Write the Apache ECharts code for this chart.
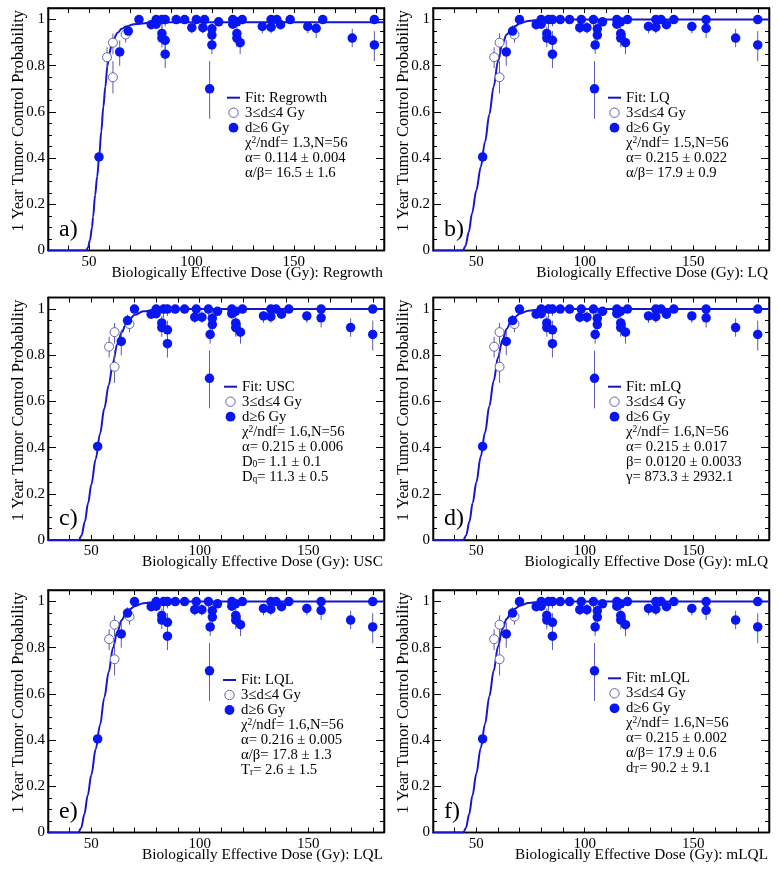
<!DOCTYPE html>
<html><head><meta charset="utf-8">
<script src="https://cdn.jsdelivr.net/npm/echarts@6/dist/echarts.min.js"></script>
<style>html,body{margin:0;padding:0;background:#fff}#c{width:779px;height:871px}</style>
</head><body><div id="c"></div>
<script>
// ---------------- DATA ----------------
// d>=6 Gy (filled) points: TCP and error-bar bounds (same for all panels)
const tcpFilled = [0.405,0.86,0.95,1.0,0.978,1.0,0.98,0.94,0.92,1.0,1.0,0.91,0.85,1.0,1.0,0.965,1.0,0.965,1.0,0.70,0.89,0.96,0.933,0.99,1.0,0.98,0.99,0.94,0.92,0.90,1.0,0.97,1.0,0.967,1.0,0.978,1.0,0.97,0.962,1.0,0.92,1.0,0.89];
const loFilled  = [0.385,0.80,0.92,1.0,0.96,0.97,0.96,0.91,0.88,0.96,0.97,0.87,0.79,1.0,1.0,0.94,1.0,0.94,0.97,0.57,0.85,0.93,0.90,0.98,1.0,0.96,0.98,0.91,0.88,0.85,1.0,0.94,1.0,0.94,1.0,0.96,1.0,0.94,0.92,1.0,0.88,1.0,0.82];
const hiFilled  = [0.425,0.91,0.975,1.0,0.99,1.0,0.99,0.97,0.95,1.02,1.02,0.95,0.90,1.0,1.0,0.99,1.0,0.99,1.0,0.82,0.93,0.99,0.96,1.0,1.0,0.99,1.0,0.97,0.95,0.94,1.0,0.99,1.0,0.99,1.0,0.99,1.0,0.99,0.99,1.0,0.96,1.0,0.95];
// BED of filled points: Regrowth model (panel a) and LQ-type models (panels b-f)
const bedRegFilled = [54.9,65.0,69.2,74.4,80.4,82.8,82.8,85.6,85.6,85.6,87.2,87.2,87.2,92.6,96.7,100.2,102.4,105.6,106.4,108.9,110.0,110.0,110.0,113.3,120.2,120.2,122.2,122.2,122.2,123.8,124.8,134.6,138.9,138.9,141.7,143.5,148.2,156.8,160.9,164.1,178.5,189.3,189.3];
const bedLQFilled  = [52.9,63.8,66.7,69.9,77.6,79.9,79.9,82.5,82.5,83.3,85.1,85.1,85.1,88.7,93.0,97.7,98.4,101.0,104.0,104.5,104.8,105.8,105.8,108.2,114.8,114.8,116.5,116.6,116.6,118.8,119.7,129.4,132.8,132.8,135.2,137.7,141.1,149.4,156.0,156.0,169.6,179.8,179.8];
// 3<=d<=4 Gy (open) points
const tcpOpen = [0.837,0.90,0.75,0.935];
const loOpen  = [0.79,0.85,0.68,0.90];
const hiOpen  = [0.88,0.94,0.82,0.96];
const bedRegOpen = [58.8,61.7,61.7,67.9];
const bedLQOpen  = [58.2,60.7,60.7,67.6];
// Fit curves
const curveAx = [30,48.5,49.5,50.5,51.5,52,53,54,55,56,57,58,59,60,61,62,64,66,68,72,80,90,194];
const curveAy = [0,0,0.012,0.045,0.10,0.145,0.24,0.32,0.41,0.515,0.62,0.71,0.80,0.855,0.89,0.915,0.943,0.96,0.97,0.98,0.986,0.988,0.988];
const curveBx = [30,43.8,45,46.5,48,50,52,54,56,58,60,62,64,66,68,70,74,80,90,185];
const curveBy = [0,0,0.02,0.08,0.16,0.26,0.36,0.47,0.59,0.71,0.82,0.895,0.935,0.955,0.972,0.983,0.994,0.999,1,1];
const curveCx = [30,44.2,45.5,47,48.5,50,52,54,56,58,60,62,64,66,68,70,74,80,90,185];
const curveCy = [0,0,0.02,0.08,0.16,0.24,0.35,0.46,0.57,0.67,0.77,0.85,0.90,0.935,0.96,0.975,0.99,0.998,1,1];
const curveDx = [30,44,45.3,46.8,48.3,50,52,54,56,58,60,62,64,66,68,70,74,80,90,185];
const curveDy = [0,0,0.02,0.08,0.16,0.25,0.36,0.465,0.58,0.69,0.79,0.865,0.915,0.947,0.967,0.98,0.993,0.999,1,1];
const curveEx = [30,44,45.3,46.8,48.3,50,52,54,56,58,60,62,64,66,68,70,74,80,90,185];
const curveEy = [0,0,0.02,0.08,0.16,0.25,0.36,0.465,0.585,0.695,0.80,0.87,0.92,0.95,0.968,0.98,0.993,0.999,1,1];
const curveFx = [30,44,45.2,46.7,48.2,50,52,54,56,58,60,62,64,66,68,70,74,80,90,185];
const curveFy = [0,0,0.02,0.08,0.16,0.255,0.365,0.47,0.59,0.70,0.805,0.88,0.925,0.952,0.97,0.982,0.994,0.999,1,1];
// Tick labels
const xTickLabels = [50,100,150];
const yTickLabels = [0,0.2,0.4,0.6,0.8,1];
// Texts
const panelLetters = ['a)','b)','c)','d)','e)','f)'];
const modelNames = ['Regrowth','LQ','USC','mLQ','LQL','mLQL'];
const statsA = ['χ{sup|2}/ndf= 1.3,N=56','α= 0.114 ± 0.004','α/β= 16.5 ± 1.6'];
const statsB = ['χ{sup|2}/ndf= 1.5,N=56','α= 0.215 ± 0.022','α/β= 17.9 ± 0.9'];
const statsC = ['χ{sup|2}/ndf= 1.6,N=56','α= 0.215 ± 0.006','D{sub|0}= 1.1 ± 0.1','D{sub|q}= 11.3 ± 0.5'];
const statsD = ['χ{sup|2}/ndf= 1.6,N=56','α= 0.215 ± 0.017','β= 0.0120 ± 0.0033','γ= 873.3 ± 2932.1'];
const statsE = ['χ{sup|2}/ndf= 1.6,N=56','α= 0.216 ± 0.005','α/β= 17.8 ± 1.3','T{sub|r}= 2.6 ± 1.5'];
const statsF = ['χ{sup|2}/ndf= 1.6,N=56','α= 0.215 ± 0.002','α/β= 17.9 ± 0.6','d{sub|T}= 90.2 ± 9.1'];
const legendOpenLabel = '3≤d≤4 Gy';
const legendFilledLabel = 'd≥6 Gy';
const xTitlePrefix = 'Biologically Effective Dose (Gy): ';
const yTitle = '1 Year Tumor Control Probability';

// ---------------- LAYOUT ----------------
const FONT = 'Liberation Serif';
const GW = 336, GH = 242.5;
const cols = [48, 433];
const rows = [8, 297.5, 590];
const curveColor = '#1616cc';
const fillColor = '#0816f4';
const openColor = '#6464ae';
const errColor = '#5c5cb0';

const panels = [
  {bed: bedRegFilled, bedO: bedRegOpen, cx: curveAx, cy: curveAy, xmax: 194, stats: statsA},
  {bed: bedLQFilled, bedO: bedLQOpen, cx: curveBx, cy: curveBy, xmax: 185, stats: statsB},
  {bed: bedLQFilled, bedO: bedLQOpen, cx: curveCx, cy: curveCy, xmax: 185, stats: statsC},
  {bed: bedLQFilled, bedO: bedLQOpen, cx: curveDx, cy: curveDy, xmax: 185, stats: statsD},
  {bed: bedLQFilled, bedO: bedLQOpen, cx: curveEx, cy: curveEy, xmax: 185, stats: statsE},
  {bed: bedLQFilled, bedO: bedLQOpen, cx: curveFx, cy: curveFy, xmax: 185, stats: statsF}
];
const legendOffset = [[179,89.7],[175,89.7],[176,89.2],[175,89.2],[175,90],[175,88.3]];

const grids = [], xAxes = [], yAxes = [], series = [], graphics = [];
const xFmt = v => (Math.abs(v - Math.round(v)) < 1e-6 && xTickLabels.includes(Math.round(v))) ? String(Math.round(v)) : '';
const yFmt = v => { const l = yTickLabels.find(t => Math.abs(t - v) < 1e-6); return l === undefined ? '' : String(l); };
const lineSty = {color:'#000', width:1.3};

panels.forEach((p, i) => {
  const left = cols[i % 2], top = rows[Math.floor(i / 2)];
  grids.push({left, top, width: GW, height: GH, show: true, borderColor: '#000', borderWidth: 1.3, backgroundColor: 'transparent', containLabel: false});
  const xBase = {gridIndex: i, type: 'value', min: 30, max: p.xmax, interval: 10, splitLine: {show: false}, axisLine: {show: true, onZero: false, lineStyle: lineSty}};
  xAxes.push(Object.assign({}, xBase, {position: 'bottom', axisTick: {inside: true, length: 5, lineStyle: {color:'#000', width: 1}},
    axisLabel: {margin: 4, fontFamily: FONT, fontSize: 15, color: '#000', formatter: xFmt}}));
  xAxes.push(Object.assign({}, xBase, {position: 'top', axisTick: {inside: true, length: 5, lineStyle: {color:'#000', width: 1}}, axisLabel: {show: false}}));
  const yBase = {gridIndex: i, type: 'value', min: 0, max: 1.05, splitLine: {show: false}, axisLine: {show: true, onZero: false, lineStyle: lineSty}};
  yAxes.push(Object.assign({}, yBase, {position: 'left', interval: 0.2, axisTick: {inside: true, length: 8, lineStyle: {color:'#000', width: 1}},
    axisLabel: {margin: 3, fontFamily: FONT, fontSize: 15, color: '#000', formatter: yFmt}}));
  yAxes.push(Object.assign({}, yBase, {position: 'left', interval: 0.05, axisTick: {inside: true, length: 4, lineStyle: {color:'#000', width: 1}}, axisLabel: {show: false}}));
  yAxes.push(Object.assign({}, yBase, {position: 'right', interval: 0.2, axisTick: {inside: true, length: 8, lineStyle: {color:'#000', width: 1}}, axisLabel: {show: false}}));
  yAxes.push(Object.assign({}, yBase, {position: 'right', interval: 0.05, axisTick: {inside: true, length: 4, lineStyle: {color:'#000', width: 1}}, axisLabel: {show: false}}));
  const xi = 2 * i, yi = 4 * i;
  series.push({type: 'line', xAxisIndex: xi, yAxisIndex: yi, data: p.cx.map((x, k) => [x, p.cy[k]]),
    showSymbol: false, smooth: 0.35, smoothMonotone: 'x', lineStyle: {color: curveColor, width: 2}, z: 2, silent: true, animation: false});
  const errData = p.bed.map((x, k) => [x, loFilled[k], hiFilled[k]]).concat(p.bedO.map((x, k) => [x, loOpen[k], hiOpen[k]]));
  series.push({type: 'custom', xAxisIndex: xi, yAxisIndex: yi, data: errData, encode: {x: 0, y: [1, 2]}, z: 3, animation: false,
    renderItem: (params, api) => {
      const a = api.coord([api.value(0), api.value(1)]);
      const b = api.coord([api.value(0), api.value(2)]);
      return {type: 'line', shape: {x1: a[0], y1: a[1], x2: b[0], y2: b[1]}, style: {stroke: errColor, lineWidth: 1}};
    }});
  series.push({type: 'scatter', xAxisIndex: xi, yAxisIndex: yi, data: p.bedO.map((x, k) => [x, tcpOpen[k]]), symbol: 'circle', symbolSize: 9,
    itemStyle: {color: '#fff', borderColor: openColor, borderWidth: 1, opacity: 1}, z: 4, animation: false});
  series.push({type: 'scatter', xAxisIndex: xi, yAxisIndex: yi, data: p.bed.map((x, k) => [x, tcpFilled[k]]), symbol: 'circle', symbolSize: 9.5,
    itemStyle: {color: fillColor, opacity: 1}, z: 5, animation: false});

  // axis titles
  graphics.push({type: 'text', x: left + GW - 1, y: top + GH + 22, style: {text: xTitlePrefix + modelNames[i], font: '15.3px "' + FONT + '"', fill: '#000', align: 'right', verticalAlign: 'middle'}});
  graphics.push({type: 'text', x: left - 29, y: top + 2, rotation: Math.PI / 2, style: {text: yTitle, font: '16.4px "' + FONT + '"', fill: '#000', align: 'right', verticalAlign: 'middle'}});
  // panel letter
  graphics.push({type: 'text', x: left + 11, y: top + GH - 21, style: {text: panelLetters[i], font: '24px "' + FONT + '"', fill: '#000', align: 'left', verticalAlign: 'middle'}});
  // legend
  const lx = left + legendOffset[i][0], ly = top + legendOffset[i][1], dy = 15, tx = lx + 18;
  graphics.push({type: 'line', shape: {x1: lx, y1: ly, x2: lx + 13, y2: ly}, style: {stroke: curveColor, lineWidth: 2}});
  graphics.push({type: 'circle', shape: {cx: lx + 6.5, cy: ly + dy, r: 4.7}, style: {fill: '#fff', stroke: openColor, lineWidth: 1}});
  graphics.push({type: 'circle', shape: {cx: lx + 6.5, cy: ly + 2 * dy, r: 4.9}, style: {fill: fillColor}});
  const lines = ['Fit: ' + modelNames[i], legendOpenLabel, legendFilledLabel].concat(p.stats);
  lines.forEach((t, k) => {
    graphics.push({type: 'text', x: tx, y: ly + k * dy, style: {text: t, font: '14.7px "' + FONT + '"', fill: '#000', align: 'left', verticalAlign: 'middle',
      rich: {sup: {fontSize: 9.5, fontFamily: FONT, verticalAlign: 'top', padding: [0, 0, 5, 0]}, sub: {fontSize: 9.5, fontFamily: FONT, verticalAlign: 'bottom', padding: [5, 0, 0, 0]}}}});
  });
});

const chart = echarts.init(document.getElementById('c'), null, {renderer: 'canvas'});
chart.setOption({animation: false, backgroundColor: '#fff', grid: grids, xAxis: xAxes, yAxis: yAxes, series, graphic: {elements: graphics}});
</script></body></html>
